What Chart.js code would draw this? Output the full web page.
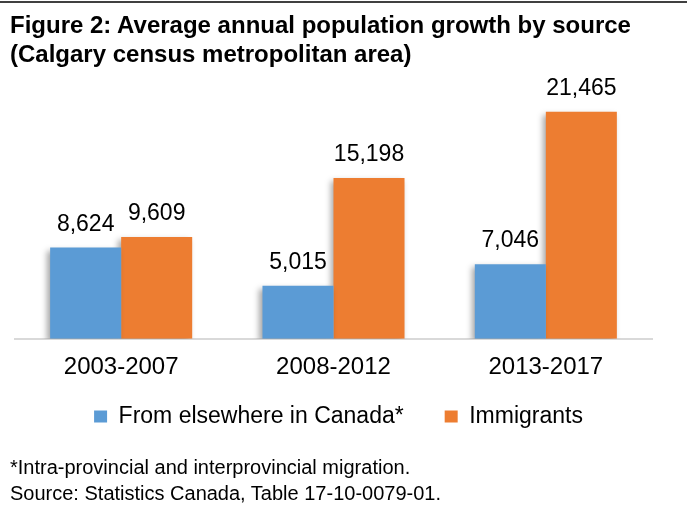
<!DOCTYPE html>
<html>
<head>
<meta charset="utf-8">
<script src="https://cdn.jsdelivr.net/npm/chart.js@4.4.1/dist/chart.umd.min.js"></script>
<style>
  html, body { margin: 0; padding: 0; background: #fff; }
  body { width: 687px; height: 513px; position: relative; overflow: hidden;
         font-family: "Liberation Sans", Arial, sans-serif; color: #000; }
  .rule { position: absolute; left: 0; top: 1px; width: 687px; height: 2px; background: #404040; }
  .title { position: absolute; left: 10px; top: 10px; font-size: 24px; font-weight: bold; line-height: 29px; }
  .note { position: absolute; left: 10px; top: 455px; font-size: 20px; line-height: 25.5px; }
  #chart { position: absolute; left: 0; top: 0; }
</style>
</head>
<body>
<canvas id="chart" width="687" height="473"></canvas>
<div class="rule"></div>
<div class="title">Figure 2: Average annual population growth by source<br>(Calgary census metropolitan area)</div>
<div class="note">*Intra-provincial and interprovincial migration.<br>Source: Statistics Canada, Table 17-10-0079-01.</div>

<script>
const periods = ['2003-2007', '2008-2012', '2013-2017'];
const fromCanada = [8624, 5015, 7046];
const immigrants = [9609, 15198, 21465];
const seriesNames = ['From elsewhere in Canada*', 'Immigrants'];

const fontFamily = '"Liberation Sans", Arial, sans-serif';

// soft shadow like the original, then value labels on top
const barExtras = {
  id: 'barExtras',
  beforeDatasetsDraw(chart) {
    const ctx = chart.ctx;
    ctx.save();
    ctx.shadowColor = 'rgba(0, 0, 0, 0.35)';
    ctx.shadowBlur = 6;
    ctx.shadowOffsetX = -3;
    ctx.shadowOffsetY = 3;
  },
  afterDatasetsDraw(chart) {
    const ctx = chart.ctx;
    ctx.restore();
    ctx.save();
    ctx.font = '23px ' + fontFamily;
    ctx.fillStyle = '#000';
    ctx.textAlign = 'center';
    ctx.textBaseline = 'alphabetic';
    chart.data.datasets.forEach((ds, i) => {
      chart.getDatasetMeta(i).data.forEach((bar, j) => {
        ctx.fillText(ds.data[j].toLocaleString('en-US'), bar.x, bar.y - 17);
      });
    });
    ctx.restore();
  },
  afterLayout(chart) {
    // legend sits closer to the axis and a bit right in the source figure
    const lg = chart.legend;
    const dy = 364 - lg.top;
    lg.top += dy;
    lg.bottom += dy;
    lg.left += 5;
    lg.right += 5;
  }
};

new Chart(document.getElementById('chart'), {
  type: 'bar',
  data: {
    labels: periods,
    datasets: [
      { label: seriesNames[0], data: fromCanada, backgroundColor: '#5B9BD5' },
      { label: seriesNames[1], data: immigrants, backgroundColor: '#ED7D31' }
    ]
  },
  options: {
    responsive: false,
    animation: false,
    layout: { padding: { left: 15, right: 35, top: 85, bottom: 3.5 } },
    categoryPercentage: 0.669,
    barPercentage: 1,
    scales: {
      x: {
        grid: { display: false, drawTicks: false },
        border: { color: '#D9D9D9', width: 2 },
        ticks: { color: '#000', padding: 14, font: { family: fontFamily, size: 24 } }
      },
      y: { display: false, min: 0, max: 24000 }
    },
    plugins: {
      legend: {
        position: 'bottom',
        labels: {
          color: '#000',
          boxWidth: 13,
          boxHeight: 12,
          padding: 41,
          font: { family: fontFamily, size: 23 }
        }
      },
      tooltip: { enabled: false }
    }
  },
  plugins: [barExtras]
});
</script>
</body>
</html>
